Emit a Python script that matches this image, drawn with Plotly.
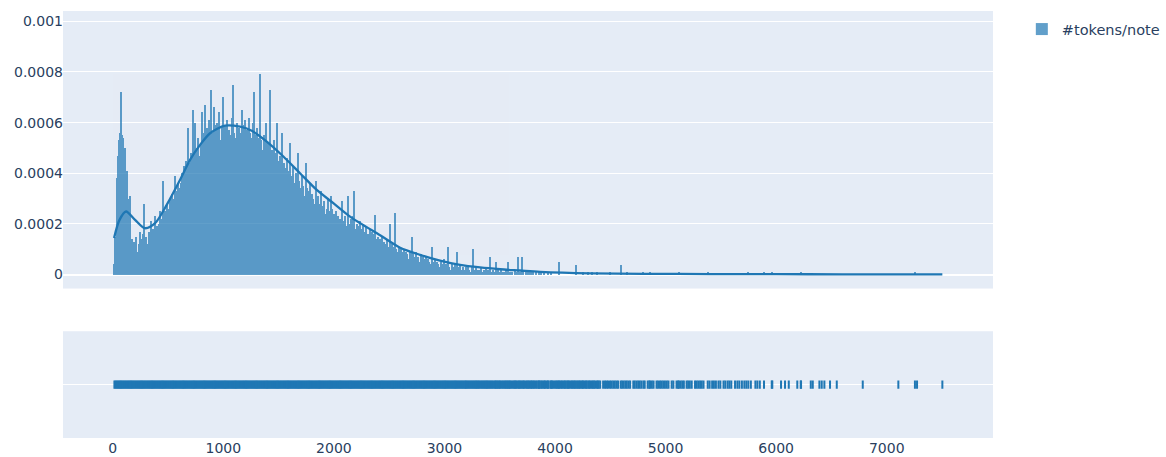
import plotly.graph_objects as go

LABEL = "#tokens/note"
COLOR = "rgb(31, 119, 180)"

# Histogram: probability density (x 1e-6) per 10-token bin, first bin starts at 10
BIN_START = 10
BIN_WIDTH = 10
density_e6 = [
    # 10 .. 200
    40, 150, 380, 470, 530, 560, 720, 550, 540, 470, 500, 410, 300, 170, 310, 120, 140, 90, 130, 110,
    # 210 .. 400
    150, 90, 120, 170, 110, 140, 160, 280, 130, 150, 120, 170, 140, 210, 160, 180, 150, 230, 170, 190,
    # 410 .. 600
    200, 250, 180, 220, 370, 230, 250, 240, 280, 260, 300, 270, 320, 280, 300, 390, 310, 330, 360, 340,
    # 610 .. 800
    360, 400, 350, 430, 390, 450, 420, 580, 440, 480, 430, 650, 470, 600, 460, 500, 540, 470, 520, 640,
    # 810 .. 1000
    530, 560, 670, 500, 580, 540, 610, 730, 560, 520, 660, 590, 550, 600, 570, 640, 530, 580, 700, 560,
    # 1010 .. 1200
    590, 540, 610, 480, 570, 550, 620, 750, 560, 510, 540, 600, 470, 580, 560, 650, 530, 590, 610, 540,
    # 1210 .. 1400
    570, 500, 620, 560, 540, 600, 720, 550, 520, 580, 500, 540, 790, 530, 490, 550, 510, 600, 480, 520,
    # 1410 .. 1600
    500, 730, 470, 490, 530, 440, 480, 600, 450, 430, 470, 410, 560, 440, 400, 420, 460, 380, 410, 520,
    # 1610 .. 1800
    390, 370, 430, 360, 400, 350, 480, 370, 340, 330, 390, 350, 310, 440, 340, 300, 330, 360, 290, 320,
    # 1810 .. 2000
    300, 280, 370, 290, 310, 260, 280, 330, 250, 270, 290, 240, 260, 300, 230, 250, 310, 260, 220, 240,
    # 2010 .. 2200
    250, 210, 230, 190, 220, 200, 290, 180, 210, 230, 190, 310, 200, 170, 220, 190, 230, 330, 180, 200,
    # 2210 .. 2400
    190, 170, 210, 160, 180, 200, 150, 170, 190, 160, 140, 180, 150, 170, 140, 160, 235, 140, 150, 130,
    # 2410 .. 2600
    140, 120, 150, 110, 130, 120, 100, 140, 110, 200, 100, 120, 90, 110, 243, 100, 90, 110, 80, 100,
    # 2610 .. 2800
    90, 80, 100, 70, 90, 80, 60, 90, 70, 150, 80, 60, 70, 90, 60, 70, 50, 80, 60, 70,
    # 2810 .. 3000
    60, 50, 70, 40, 60, 50, 40, 110, 50, 40, 60, 30, 50, 40, 30, 50, 40, 30, 60, 40,
    # 3010 .. 3200
    30, 40, 110, 30, 20, 40, 30, 20, 40, 30, 90, 20, 30, 40, 20, 30, 20, 0, 30, 20,
    # 3210 .. 3400
    30, 20, 10, 30, 100, 20, 20, 30, 10, 20, 0, 20, 30, 10, 20, 10, 30, 20, 10, 20,
    # 3410 .. 3600
    70, 10, 20, 10, 0, 50, 10, 20, 10, 0, 20, 10, 10, 0, 20, 10, 50, 10, 0, 10,
    # 3610 .. 3800
    10, 0, 20, 10, 0, 70, 10, 0, 10, 70, 10, 0, 10, 0, 20, 10, 0, 10, 0, 10,
    # 3810 .. 4000
    0, 10, 0, 0, 10, 0, 10, 0, 0, 10, 0, 0, 10, 0, 0, 10, 0, 0, 0, 0,
]

# Isolated bars in the long tail (position, density x 1e-6)
tail_bar_x = [4036, 4187, 4256, 4301, 4332, 4377, 4497, 4594, 4649, 4799, 4860,
              5121, 5381, 5748, 5890, 5960, 6222, 7255]
tail_bar_density_e6 = [49, 36, 12, 12, 12, 12, 12, 36, 12, 12, 12,
                       12, 12, 12, 12, 12, 12, 12]

# KDE curve (density x 1e-6)
kde_x = [12, 60, 120, 202, 292, 383, 488, 609, 699, 790, 880, 1016, 1151, 1257,
         1393, 1543, 1694, 1845, 1995, 2146, 2237, 2418, 2599, 2779, 2960, 3141,
         3322, 3503, 3684, 3865, 4317, 4800, 5400, 6000, 6600, 7000, 7503]
kde_density_e6 = [144, 215, 249, 216, 183, 203, 275, 374, 453, 512, 558, 588, 584, 568,
                  525, 466, 400, 334, 282, 229, 203, 155, 106, 78, 55, 38,
                  28, 21, 16, 11, 5, 3, 2, 1.5, 1, 0.7, 0.5]

# Extra rug observations where the bins above show no bar
rug_extra = [
    3186, 3314, 3457, 3503, 3546, 3593, 3627, 3652, 3684, 3722, 3745, 3776, 3793, 3812, 3834,
    3847, 3863, 3884, 3896, 3912, 3925, 3941, 3957, 3973, 3984, 3996, 4007,
    4018, 4029, 4047, 4058, 4066, 4079, 4088, 4097, 4109, 4118, 4127, 4139, 4150, 4158, 4169,
    4178, 4199, 4210, 4219, 4228, 4240, 4249, 4268, 4279, 4288, 4310, 4319, 4341, 4352, 4363,
    4386, 4395, 4408,
    4435, 4452, 4466, 4479, 4511, 4526, 4541, 4556, 4570, 4607, 4621, 4636, 4664, 4679, 4708,
    4721, 4737, 4752, 4766, 4781, 4811, 4838, 4852, 4876, 4891, 4918, 4932, 4949, 4963, 4978,
    4994, 5011, 5026, 5055, 5070, 5099, 5112, 5137, 5152, 5165, 5190, 5204, 5219, 5236, 5266,
    5281, 5296, 5312, 5327, 5343,
    5398, 5421, 5437, 5455, 5478, 5495, 5524, 5540, 5561, 5577, 5594, 5628, 5649, 5667, 5690,
    5712, 5730, 5771, 5812, 5830, 5852,
    5965, 6044, 6080, 6114, 6191, 6225, 6313, 6331, 6391, 6412, 6436, 6487, 6548, 6783, 7105,
    7274, 7503,
]

# ---------------------------------------------------------------------------
bin_centers = [BIN_START + BIN_WIDTH * (i + 0.5) for i in range(len(density_e6))]
hist_x = bin_centers + tail_bar_x
hist_y = [d * 1e-6 for d in density_e6 + tail_bar_density_e6]
kde_y = [d * 1e-6 for d in kde_density_e6]
rug_x = sorted(set([c for c, d in zip(bin_centers, density_e6) if d > 0] + tail_bar_x + rug_extra))

fig = go.Figure()
fig.add_trace(go.Bar(
    x=hist_x, y=hist_y, width=BIN_WIDTH, name=LABEL, legendgroup=LABEL,
    marker=dict(color=COLOR, line=dict(width=0)), opacity=0.7,
    xaxis="x", yaxis="y",
))
fig.add_trace(go.Scatter(
    x=kde_x, y=kde_y, mode="lines", name=LABEL, legendgroup=LABEL, showlegend=False,
    line=dict(color=COLOR, width=2.3, shape="spline", smoothing=0.8),
    xaxis="x", yaxis="y",
))
fig.add_trace(go.Scatter(
    x=rug_x, y=[LABEL] * len(rug_x), mode="markers", name=LABEL, legendgroup=LABEL,
    showlegend=False,
    marker=dict(color=COLOR, symbol="line-ns-open", size=6, line=dict(width=2, color=COLOR)),
    xaxis="x", yaxis="y2",
))

fig.update_layout(
    template="plotly",
    width=1166, height=457,
    margin=dict(l=63, r=173, t=11, b=19, autoexpand=False),
    font=dict(family="DejaVu Sans", size=14, color="#2a3f5f"),
    barmode="overlay",
    bargap=0,
    showlegend=True,
    legend=dict(x=1.031, y=0.995, traceorder="reversed", font=dict(size=14.5)),
    xaxis=dict(domain=[0, 1], anchor="y2", zeroline=False, showgrid=False,
               range=[-450, 7961], automargin=False),
    yaxis=dict(domain=[0.35, 1], anchor="free", position=0.0,
               range=[-0.0000552, 0.0010406], automargin=False),
    yaxis2=dict(domain=[0, 0.25], anchor="x", dtick=1, showticklabels=False,
                automargin=False),
)

fig.write_html(
    "out.html",
    config={"displayModeBar": False},
    post_script="document.body.style.margin='0';document.body.style.overflow='hidden';",
)
